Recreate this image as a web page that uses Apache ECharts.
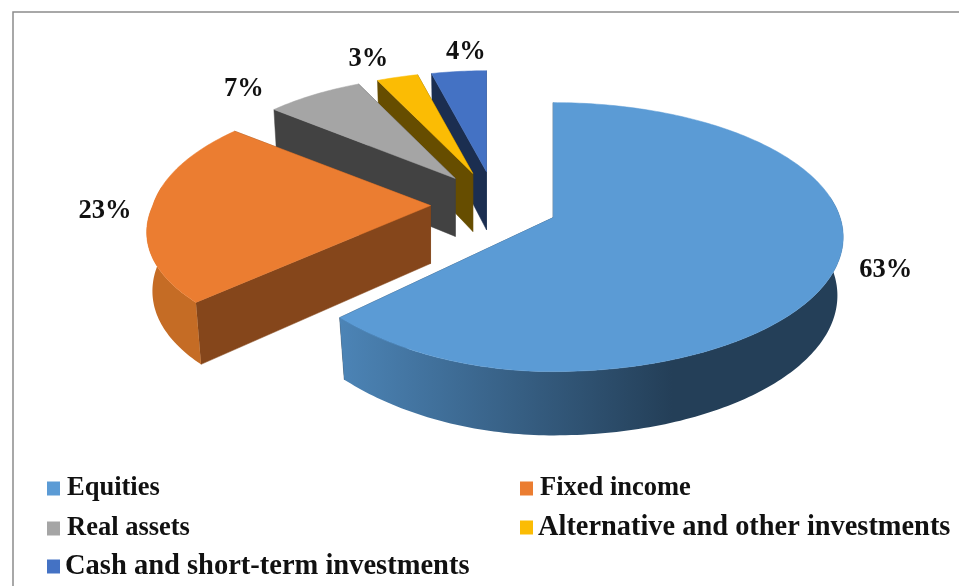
<!DOCTYPE html>
<html>
<head>
<meta charset="utf-8">
<style>html,body{margin:0;padding:0;background:#fff}#c{width:959px;height:586px}</style>
<script src="https://cdn.jsdelivr.net/npm/echarts@6/dist/echarts.min.js"></script>
</head>
<body>
<div id="c"></div>
<script>
const categories = ['Equities','Fixed income','Real assets','Alternative and other investments','Cash and short-term investments'];
const values = [63,23,7,3,4];
const topColors = ['#5B9BD5','#EB7D31','#A5A5A5','#FBBC04','#4472C4'];
const wallColors = ['#264059','#85461B','#424242','#664D00','#1B2E50'];
const rimLeft = ['#4C84B6','#C56C25','#8C8C8C','#D9A300','#3A61A7'];
const rimRight = ['#243F58','#C56C25','#424242','#664D00','#1B2E50'];

// layout constants for the tilted, exploded disc
const P = {ox:494.5, oy:204.5, ex:64, ey:33, d:287, b:131.7, k:0.145, h:58, m:0.02};
const frontLeftStretch = [-0.117,0.064,0,0,0];
const labelOffsets = [[53,-3],[-46,1.5],[-70,-6],[-29,-18],[7,-19.5]];
const legendPos = [[47,475],[520,475],[47,515],[520,513.5],[47,552]];
const legendFont = [26.5,26.5,26.5,28.4,28.5];
const legendPad = [2,2,2,0,0];

const total = values.reduce((a,b)=>a+b,0);
let run = 0;
const spans = values.map(v=>{const a=run/total*360; run+=v; return [a,run/total*360];});
const rad = a=>a*Math.PI/180;
function pt(i,r,a,z){
  const mid = rad((spans[i][0]+spans[i][1])/2), t = rad(a);
  const ax = P.ox+P.ex*Math.sin(mid), ay = P.oy-P.ey*Math.cos(mid);
  const S = 0.965-0.0874*Math.cos(mid);
  const c = Math.sin(t)*r, s = -Math.cos(t)*r;
  const w = 1-P.k*s;
  const L = (c<0 && s>0) ? 1+frontLeftStretch[i]*s : 1;
  return [ax+S*L*P.d*c/(w+P.m*z), ay+S*P.b*s/w+P.h*z*(1+0.1*s)];
}
function angles(a0,a1){
  const out=[];const n=Math.max(2,Math.ceil(Math.abs(a1-a0)));
  for(let j=0;j<=n;j++)out.push(a0+(a1-a0)*j/n);
  return out;
}
function renderSlice(i){
  return function(){
    const [a0,a1]=spans[i];
    const arc=angles(a0,a1);
    const top=[pt(i,0,a0,0)].concat(arc.map(a=>pt(i,1,a,0)));
    const front=arc.filter(a=>-Math.cos(rad(a))>-0.16);
    const kids=[];
    const wall=a=>({type:'polygon',shape:{points:[pt(i,0,a,0),pt(i,1,a,0),pt(i,1,a,1),pt(i,0,a,1)]},
      style:{fill:wallColors[i],stroke:wallColors[i],lineWidth:0.5}});
    kids.push(wall(a1));
    kids.push(wall(a0));
    if(front.length>1){
      const rim=front.map(a=>pt(i,1,a,0)).concat(front.slice().reverse().map(a=>pt(i,1,a,1)));
      kids.push({type:'polygon',shape:{points:rim},style:{
        fill:new echarts.graphic.LinearGradient(0,0,1,0,[{offset:0,color:rimLeft[i]},{offset:0.66,color:rimRight[i]},{offset:1,color:rimRight[i]}])}});
    }
    kids.push({type:'polygon',shape:{points:top},style:{fill:topColors[i],stroke:topColors[i],lineWidth:0.5}});
    const mid=(a0+a1)/2, q=pt(i,1,mid,0);
    kids.push({type:'text',x:q[0]+labelOffsets[i][0],y:q[1]+labelOffsets[i][1],style:{
      text:values[i]+'%',fill:'#111',font:'bold 26.5px "Liberation Serif"',align:'center',verticalAlign:'middle'}});
    return {type:'group',children:kids};
  };
}
const order=[4,3,2,1,0];
const chart=echarts.init(document.getElementById('c'),null,{renderer:'canvas'});
chart.setOption({
  animation:false,
  backgroundColor:'#fff',
  color:topColors,
  graphic:[{type:'polyline',z:-1,shape:{points:[[13,586],[13,12],[959,12]]},style:{stroke:'#8c8c8c',lineWidth:1.5,fill:null}}],
  legend:categories.map((name,i)=>({
    data:[name],left:legendPos[i][0],top:legendPos[i][1],padding:0,
    itemWidth:13,itemHeight:14,icon:'rect',selectedMode:false,
    textStyle:{fontFamily:'Liberation Serif',fontWeight:'bold',fontSize:legendFont[i],color:'#111',padding:[0,0,0,legendPad[i]]}
  })),
  xAxis:{show:false},yAxis:{show:false},
  series:order.map(i=>({
    type:'custom',name:categories[i],coordinateSystem:'none',silent:true,
    itemStyle:{color:topColors[i]},
    data:[values[i]],renderItem:renderSlice(i)
  }))
});
</script>
</body>
</html>
